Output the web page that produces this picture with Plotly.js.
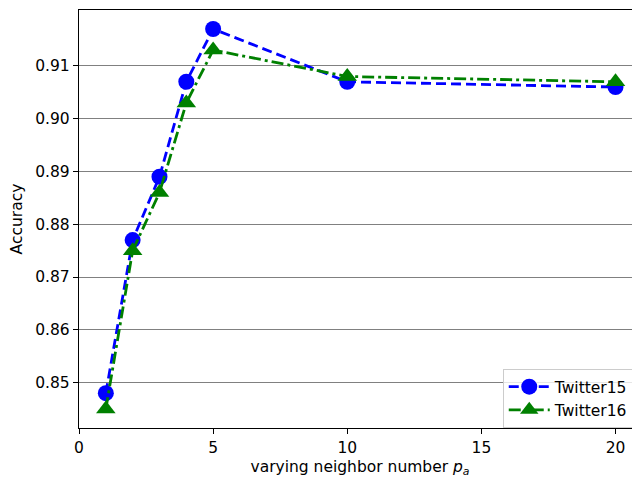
<!DOCTYPE html>
<html><head><meta charset="utf-8">
<script src="https://cdn.plot.ly/plotly-3.0.1.min.js"></script>
<style>html,body{margin:0;padding:0;overflow:hidden;background:#fff;width:632px;height:478px;}#wrap{width:632px;height:478px;overflow:hidden;position:relative;}#chart{width:700px;height:478px;position:absolute;left:0;top:0;}</style>
</head><body><div id="wrap"><div id="chart"></div></div>
<script>
const neighborNumbers = [1, 2, 3, 4, 5, 10, 20];
const twitter15 = [0.848, 0.877, 0.889, 0.907, 0.917, 0.907, 0.906];
const twitter16 = [0.845, 0.875, 0.886, 0.903, 0.913, 0.908, 0.907];
const seriesNames = ['Twitter15', 'Twitter16'];
const xTicks = [0, 5, 10, 15, 20];
const yTicks = [0.85, 0.86, 0.87, 0.88, 0.89, 0.90, 0.91];

const font = {family: 'DejaVu Sans', size: 15.5, color: '#000'};
const traces = [
  {x: neighborNumbers, y: twitter15, name: seriesNames[0], type: 'scatter', mode: 'lines+markers',
   line: {color: '#0000ff', width: 2.8, dash: '10px,5px'},
   marker: {symbol: 'circle', size: 16, color: '#0000ff'}},
  {x: neighborNumbers, y: twitter16, name: seriesNames[1], type: 'scatter', mode: 'lines+markers',
   line: {color: '#008000', width: 2.8, dash: '12px,4px,3px,4px'},
   marker: {symbol: 'triangle-up', size: 17, color: '#008000'}}
];
const layout = {
  width: 700, height: 478,
  margin: {l: 79, r: 59, t: 10, b: 50},
  paper_bgcolor: '#fff', plot_bgcolor: '#fff',
  font: font,
  showlegend: true,
  legend: {x: 0.754, y: 0.141, xanchor: 'left', yanchor: 'top',
    bordercolor: '#cccccc', borderwidth: 1, bgcolor: 'rgba(255,255,255,0.8)',
    itemwidth: 41,
    font: {family: 'DejaVu Sans', size: 15.5, color: '#000'}, tracegroupgap: 0},
  xaxis: {range: [0, 20.95], tickvals: xTicks, ticktext: xTicks.map(String),
    showgrid: false, zeroline: false, showline: true, linecolor: '#000', linewidth: 1.2, mirror: true,
    ticks: 'outside', ticklen: 5, tickwidth: 1, tickcolor: '#000',
    tickfont: font,
    title: {text: 'varying neighbor number <i>p</i><sub><i>a</i></sub>', font: font, standoff: 6}},
  yaxis: {range: [0.8414, 0.9206], tickvals: yTicks, ticktext: yTicks.map(v => v.toFixed(2)),
    showgrid: true, gridcolor: '#808080', gridwidth: 1, zeroline: false,
    showline: true, linecolor: '#000', linewidth: 1.2, mirror: false,
    ticks: 'outside', ticklen: 5, tickwidth: 1, tickcolor: '#000',
    tickfont: font,
    title: {text: 'Accuracy', font: font, standoff: 8}}
};
Plotly.newPlot('chart', traces, layout, {staticPlot: true, displayModeBar: false});
</script>
</body></html>
